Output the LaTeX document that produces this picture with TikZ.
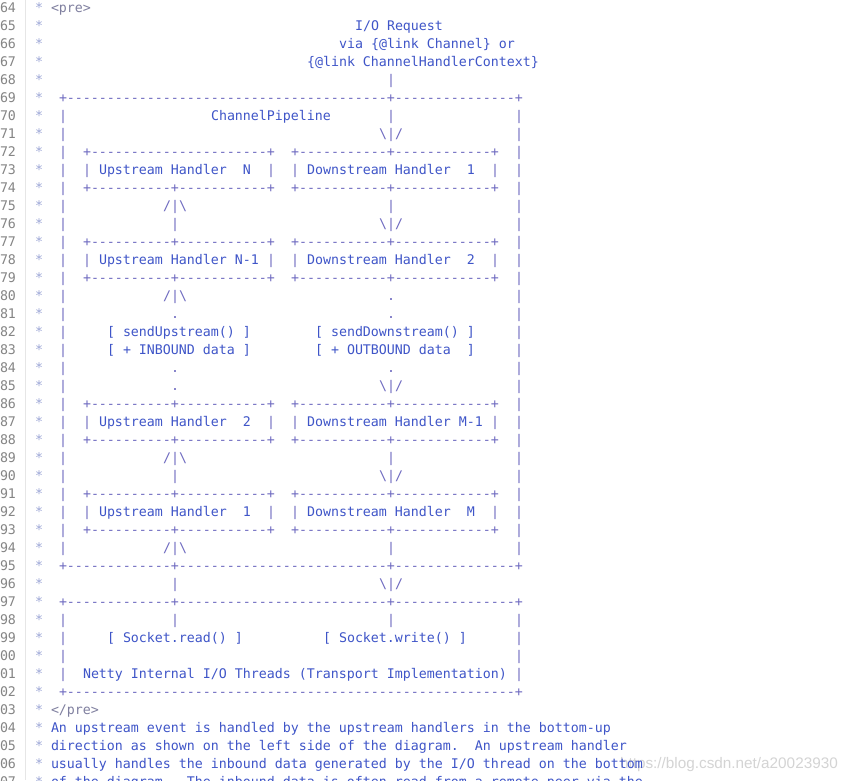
\documentclass[tikz,border=0pt]{standalone}
\usepackage{fontspec}
\setmonofont{DejaVu Sans Mono}
\newfontfamily\wmfont{Liberation Sans}
\definecolor{dgc}{HTML}{3F55C8}
\definecolor{bxc}{HTML}{6E6AC0}
\definecolor{lnc}{HTML}{858585}
\definecolor{stc}{HTML}{9CA6D6}
\definecolor{tgc}{HTML}{7F7F9F}
\definecolor{wmc}{HTML}{D4D4D4}
\definecolor{sepc}{HTML}{E6E6E6}
\ExplSyntaxOn
\cs_new:Npn \dsh #1 { \prg_replicate:nn {#1} {-} }
\ExplSyntaxOff
\newcounter{segc}
\tikzset{
  txt/.style={inner sep=0pt, outer sep=0pt, anchor=base west,
    font=\ttfamily\fontsize{13.288pt}{18pt}\selectfont\frenchspacing},
  dg/.style={text=dgc},
  bx/.style={text=bxc},
  lnum/.style={text=lnc},
  star/.style={text=stc},
  tag/.style={text=tgc}
}
\newcommand\putseg[4][dg]{\stepcounter{segc}%
  \node[txt,#1] (s\arabic{segc}) at ({27+8*#2},{12+18*(#3-64)}) {#4};}
\newcommand\sides[1]{\putseg[bx]{4}{#1}{|}\putseg[bx]{61}{#1}{|}}
\newcommand\boxrow[3]{%
  \putseg[bx]{7}{#1}{|}\putseg{9}{#1}{#2}\putseg[bx]{30}{#1}{|}%
  \putseg[bx]{33}{#1}{|}\putseg{35}{#1}{#3}\putseg[bx]{58}{#1}{|}}
\newcommand\edgerow[1]{%
  \putseg[bx]{7}{#1}{+\dsh{10}+\dsh{11}+}%
  \putseg[bx]{33}{#1}{+\dsh{11}+\dsh{12}+}}
\newcommand\uparr[1]{\putseg[bx]{17}{#1}{/|\textbackslash}}
\newcommand\downarr[1]{\putseg[bx]{44}{#1}{\textbackslash|/}}
\begin{document}
\begin{tikzpicture}[x=1pt,y=-1pt]
\useasboundingbox (0,0) rectangle (849,780);
\clip (0,0) rectangle (849,780);
\fill[white] (0,0) rectangle (849,780);
% gutter separator
\coordinate (sepTop) at (25,0);
\coordinate (sepBot) at (25,780);
\draw[sepc, line width=0.8pt] (sepTop) -- (sepBot);
% watermark
\node[inner sep=0pt, anchor=base east, text=wmc,
  font=\wmfont\fontsize{15.3pt}{18pt}\selectfont] (wm) at (838,768)
  {https://blog.csdn.net/a20023930};
% line numbers and stars
\foreach \r in {64,...,107}{
  \pgfmathtruncatemacro\nn{mod(\r,100)}
  \node[txt,lnum] (ln\r) at (0,{12+18*(\r-64)}) {\ifnum\nn<10 0\fi\nn};
  \node[txt,star] (st\r) at (35,{12+18*(\r-64)}) {*};
}
% header
\putseg[tag]{3}{64}{<pre>}
\putseg{41}{65}{I/O Request}
\putseg{39}{66}{via \{@link Channel\} or}
\putseg{35}{67}{\{@link ChannelHandlerContext\}}
\putseg[bx]{45}{68}{|}
% pipeline box
\putseg[bx]{4}{69}{+\dsh{40}+\dsh{15}+}
\sides{70}\putseg{23}{70}{ChannelPipeline}\putseg[bx]{45}{70}{|}
\sides{71}\downarr{71}
\sides{72}\putseg[bx]{7}{72}{+\dsh{22}+}\putseg[bx]{33}{72}{+\dsh{11}+\dsh{12}+}
\sides{73}\boxrow{73}{Upstream Handler~~N}{Downstream Handler~~1}
\sides{74}\edgerow{74}
\sides{75}\uparr{75}\putseg[bx]{45}{75}{|}
\sides{76}\putseg[bx]{18}{76}{|}\downarr{76}
\sides{77}\edgerow{77}
\sides{78}\boxrow{78}{Upstream Handler N-1}{Downstream Handler~~2}
\sides{79}\edgerow{79}
\sides{80}\uparr{80}\putseg[bx]{45}{80}{.}
\sides{81}\putseg[bx]{18}{81}{.}\putseg[bx]{45}{81}{.}
\sides{82}\putseg{10}{82}{[ sendUpstream() ]}\putseg{36}{82}{[ sendDownstream() ]}
\sides{83}\putseg{10}{83}{[ + INBOUND data ]}\putseg{36}{83}{[ + OUTBOUND data~~]}
\sides{84}\putseg[bx]{18}{84}{.}\putseg[bx]{45}{84}{.}
\sides{85}\putseg[bx]{18}{85}{.}\downarr{85}
\sides{86}\edgerow{86}
\sides{87}\boxrow{87}{Upstream Handler~~2}{Downstream Handler M-1}
\sides{88}\edgerow{88}
\sides{89}\uparr{89}\putseg[bx]{45}{89}{|}
\sides{90}\putseg[bx]{18}{90}{|}\downarr{90}
\sides{91}\edgerow{91}
\sides{92}\boxrow{92}{Upstream Handler~~1}{Downstream Handler~~M}
\sides{93}\edgerow{93}
\sides{94}\uparr{94}\putseg[bx]{45}{94}{|}
\putseg[bx]{4}{95}{+\dsh{13}+\dsh{26}+\dsh{15}+}
\putseg[bx]{18}{96}{|}\downarr{96}
% transport box
\putseg[bx]{4}{97}{+\dsh{13}+\dsh{26}+\dsh{15}+}
\sides{98}\putseg[bx]{18}{98}{|}\putseg[bx]{45}{98}{|}
\sides{99}\putseg{10}{99}{[ Socket.read() ]}\putseg{37}{99}{[ Socket.write() ]}
\sides{100}
\sides{101}\putseg{7}{101}{Netty Internal I/O Threads (Transport Implementation)}
\putseg[bx]{4}{102}{+\dsh{56}+}
\putseg[tag]{3}{103}{</pre>}
\putseg{3}{104}{An upstream event is handled by the upstream handlers in the bottom-up}
\putseg{3}{105}{direction as shown on the left side of the diagram.~~An upstream handler}
\putseg{3}{106}{usually handles the inbound data generated by the I/O thread on the bottom}
\putseg{3}{107}{of the diagram.~~The inbound data is often read from a remote peer via the}
\end{tikzpicture}
\end{document}
